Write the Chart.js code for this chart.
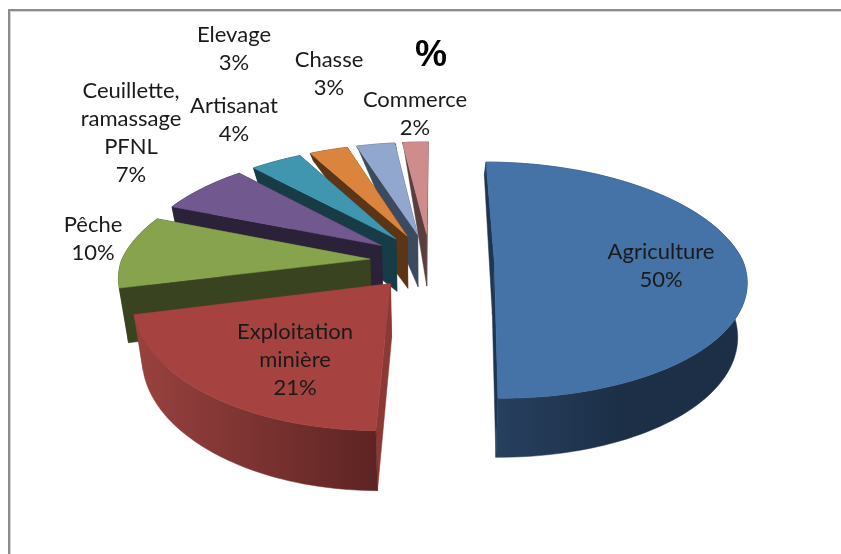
<!DOCTYPE html>
<html><head><meta charset="utf-8">
<style>html,body{margin:0;padding:0;background:#fff}#w{position:absolute;left:0;top:0;width:841px;height:554px}</style>
<script src="https://cdn.jsdelivr.net/npm/chart.js@4/dist/chart.umd.js"></script>
</head><body><div id="w"><canvas id="c" width="841" height="554"></canvas></div>
<script>
const categories = ['Agriculture','Exploitation minière','Pêche','Ceuillette, ramassage PFNL','Artisanat','Elevage','Chasse','Commerce'];
const values = [50,21,10,7,4,3,3,2];
const labelLines = [['Agriculture'],['Exploitation','minière'],['Pêche'],['Ceuillette,','ramassage','PFNL'],['Artisanat'],['Elevage'],['Chasse'],['Commerce']];
const topColors = ['#4572a7','#a64340','#87a34d','#71588f','#3f96ae','#db843d','#91a7ce','#cf8c8c'];
const wallColors = ['#1d3550','#8a3937','#39431f','#2b2138','#173b47','#5b3516','#3c4a5f','#5a3e3f'];
const rimFrom = ['#27405f','#99423f','#39431f','#2b2138','#173b47','#5b3516','#3c4a5f','#5a3e3f'];
const rimTo = ['#1c2f47','#5e2423','#39431f','#2b2138','#173b47','#5b3516','#3c4a5f','#5a3e3f'];
const labelCenters = [[661,252],[295,332],[93,225],[131,91],[234,106],[234,35],[329,60],[415,100]];
const LINE = 28, CX = 430, CY = 261, RAD = 257, VY = -453, DY = 1595, DX = 1480;

function pt(X, Y){
  const w = DX/(DX - Y + 30);
  const T = (CY - VY)/(1 - Y/DY);
  const XX = X > 0 ? X + 4 : X*(1 - 0.00025*Math.max(Y,0));
  return {x: CX + XX*w*0.987 - 0.031*Math.max(Y,0), y: VY + T};
}
function depth(Y){
  return Y < -62 ? Math.max(0, 52*(Y+325)/263) : 52 + (Y+62)*0.022;
}
function low(X, Y){
  const p = pt(X, Y);
  return {x: CX + (p.x-CX)*0.97, y: p.y + depth(Y)};
}
function poly(ctx, pts, fill){
  ctx.beginPath();
  pts.forEach((p,i)=> i ? ctx.lineTo(p.x,p.y) : ctx.moveTo(p.x,p.y));
  ctx.closePath();
  ctx.fillStyle = fill; ctx.fill();
  ctx.strokeStyle = fill; ctx.lineWidth = 0.5; ctx.stroke();
}
const pie3d = {
  id:'pie3d',
  beforeDraw(chart){
    const ctx = chart.ctx;
    ctx.fillStyle='#fff'; ctx.fillRect(0,0,841,554);
    ctx.fillStyle='#8c8c8c'; ctx.fillRect(8,9,833,2); ctx.fillRect(8,9,2,545);
    ctx.fillStyle='#d4d4d4'; ctx.fillRect(10,11,831,1); ctx.fillRect(10,11,1,543);
  },
  beforeDatasetsDraw(chart){
    const ctx = chart.ctx, arcs = chart.getDatasetMeta(0).data;
    const order = arcs.map((_,i)=>i).reverse();
    order.forEach(i=>{
      const a = arcs[i], k = RAD/a.outerRadius;
      const s = a.startAngle, e = a.endAngle, mid = (s+e)/2, d = a.options.offset*k;
      const ax = d*Math.cos(mid), ay = d*Math.sin(mid);
      const rim = [];
      const n = Math.max(6, Math.ceil((e-s)/0.03));
      for(let j=0;j<=n;j++){
        const t = s+(e-s)*j/n;
        rim.push([ax+RAD*Math.cos(t), ay+RAD*Math.sin(t)]);
      }
      const top = rim.map(p=>pt(p[0],p[1]));
      const bot = rim.map(p=>low(p[0],p[1]));
      const apexT = pt(ax,ay), apexB = low(ax,ay);
      poly(ctx,[apexT,top[0],bot[0],apexB],wallColors[i]);
      poly(ctx,[apexT,top[n],bot[n],apexB],wallColors[i]);
      const xs = top.map(p=>p.x);
      let grad;
      if(i===0){ grad = ctx.createLinearGradient(497,0,620,0); }
      else { grad = ctx.createLinearGradient(Math.min(...xs),0,Math.max(...xs),0); }
      grad.addColorStop(0,rimFrom[i]); grad.addColorStop(1,rimTo[i]);
      poly(ctx,top.concat(bot.slice().reverse()),grad);
      poly(ctx,[apexT].concat(top),topColors[i]);
    });
    return false;
  },
  afterDraw(chart){
    const ctx = chart.ctx;
    const total = values.reduce((p,c)=>p+c,0);
    ctx.textAlign='center'; ctx.textBaseline='middle';
    ctx.font='22px Lato'; 
    ctx.fillStyle='#1a1a1a';
    labelLines.forEach((lines,i)=>{
      const [x,y] = labelCenters[i];
      const all = lines.concat([Math.round(values[i]/total*100)+'%']);
      all.forEach((t,j)=> ctx.fillText(t,x,y+j*LINE));
    });
    ctx.fillStyle='#000';
    ctx.font='bold 36px "Liberation Sans"';
    ctx.fillText(chart.options.plugins.title.text,431,56);
  }
};
new Chart(document.getElementById('c'),{
  type:'pie',
  data:{labels:categories,datasets:[{data:values,backgroundColor:topColors,offset:60,borderWidth:0}]},
  options:{
    responsive:false,animation:false,rotation:0.3,
    plugins:{legend:{display:false},tooltip:{enabled:false},title:{display:false,text:'%'}},
    events:[]
  },
  plugins:[pie3d]
});
</script></body></html>
